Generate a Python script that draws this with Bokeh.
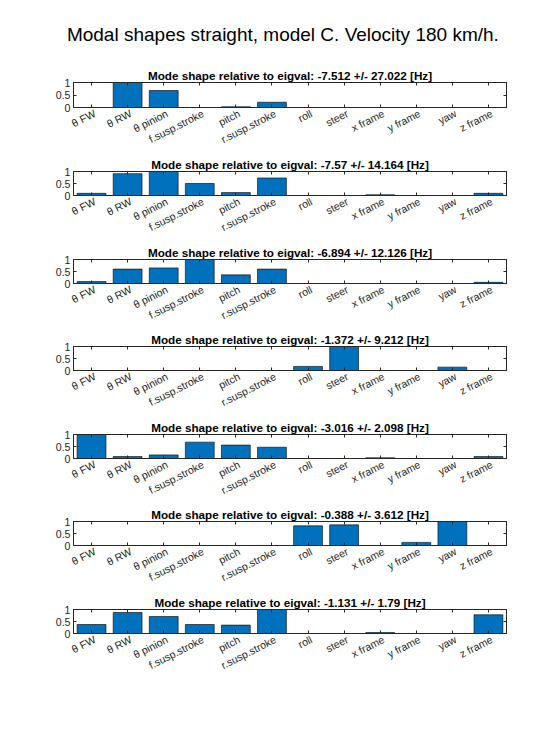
from bokeh.plotting import figure
from bokeh.layouts import column
from bokeh.models import Range1d, LinearAxis, Title, FixedTicker
from bokeh.embed import file_html
from bokeh.resources import INLINE

categories = ["θ FW", "θ RW", "θ pinion", "f.susp.stroke", "pitch", "r.susp.stroke",
              "roll", "steer", "x frame", "y frame", "yaw", "z frame"]

mode1 = [0.0, 1.0, 0.68, 0.0, 0.03, 0.21, 0.0, 0.0, 0.0, 0.0, 0.0, 0.0]
mode2 = [0.09, 0.91, 1.0, 0.5, 0.12, 0.73, 0.0, 0.0, 0.03, 0.0, 0.0, 0.09]
mode3 = [0.08, 0.6, 0.65, 1.0, 0.36, 0.6, 0.0, 0.0, 0.0, 0.0, 0.0, 0.05]
mode4 = [0.0, 0.0, 0.0, 0.0, 0.0, 0.0, 0.17, 1.0, 0.0, 0.0, 0.14, 0.0]
mode5 = [1.0, 0.08, 0.15, 0.68, 0.56, 0.47, 0.0, 0.0, 0.03, 0.0, 0.0, 0.08]
mode6 = [0.0, 0.0, 0.0, 0.0, 0.0, 0.0, 0.82, 0.86, 0.0, 0.13, 1.0, 0.0]
mode7 = [0.375, 0.875, 0.71, 0.375, 0.35, 1.0, 0.0, 0.0, 0.04, 0.0, 0.0, 0.78]

titles = [
    "Mode shape relative to eigval: -7.512 +/- 27.022 [Hz]",
    "Mode shape relative to eigval: -7.57 +/- 14.164 [Hz]",
    "Mode shape relative to eigval: -6.894 +/- 12.126 [Hz]",
    "Mode shape relative to eigval: -1.372 +/- 9.212 [Hz]",
    "Mode shape relative to eigval: -3.016 +/- 2.098 [Hz]",
    "Mode shape relative to eigval: -0.388 +/- 3.612 [Hz]",
    "Mode shape relative to eigval: -1.131 +/- 1.79 [Hz]",
]
modes = [mode1, mode2, mode3, mode4, mode5, mode6, mode7]

suptitle = "Modal shapes straight, model C. Velocity 180 km/h."
y_ticks = [0, 0.5, 1]
y_tick_labels = ["0", "0.5", "1"]

FONT = "Liberation Sans"
AX = "#262626"
BAR = "#0072BD"

xs = list(range(1, len(categories) + 1))
n = len(categories)
LAB_SHIFT = 0.09

heights = [154, 88, 87, 88, 87, 88, 88]
tops = [82, 16, 16, 16, 16, 16, 16]


def style_sub_title(t):
    t.text_font = FONT
    t.text_font_size = "11.7px"
    t.text_font_style = "bold"
    t.text_color = "black"
    t.align = "center"
    t.standoff = 2


figs = []
for i, (vals, ttl) in enumerate(zip(modes, titles)):
    p = figure(width=544, height=heights[i], x_range=Range1d(0.5, n + 0.5),
               y_range=Range1d(0, 1), output_backend="svg", toolbar_location=None,
               min_border_left=73, min_border_right=38, min_border_top=tops[i],
               min_border_bottom=heights[i] - tops[i] - 25)
    p.extra_x_ranges = {"lab": Range1d(0.5 - LAB_SHIFT, n + 0.5 - LAB_SHIFT)}
    p.vbar(x=xs, top=vals, width=0.8, fill_color=BAR, line_color="black", line_width=0.6)
    p.xgrid.visible = False
    p.ygrid.visible = False
    p.outline_line_color = AX
    p.outline_line_width = 0.8

    if i == 0:
        p.title.text = suptitle
        p.title.text_font = FONT
        p.title.text_font_size = "19px"
        p.title.text_font_style = "normal"
        p.title.text_color = "black"
        p.title.align = "left"
        p.title.offset = -6.6
        p.title.standoff = 41
    else:
        p.title.text = ttl
        style_sub_title(p.title)

    xa = p.xaxis[0]
    xa.ticker = FixedTicker(ticks=xs)
    xa.major_label_text_font_size = "0px"
    xa.major_label_standoff = 0
    xa.major_tick_in = 3
    xa.major_tick_out = 0
    xa.minor_tick_line_color = None
    xa.axis_line_color = AX
    xa.major_tick_line_color = AX

    lab = LinearAxis(x_range_name="lab", ticker=FixedTicker(ticks=xs),
                     major_label_overrides={x: c for x, c in zip(xs, categories)},
                     major_label_orientation=0.47, major_label_text_font=FONT,
                     major_label_text_font_size="10.6px", major_label_text_color=AX,
                     major_label_standoff=5, major_tick_in=0, major_tick_out=0,
                     minor_tick_line_color=None, axis_line_color=None, major_tick_line_color=None)
    p.add_layout(lab, "below")

    ya = p.yaxis[0]
    ya.ticker = FixedTicker(ticks=y_ticks)
    ya.major_label_overrides = {t: l for t, l in zip(y_ticks, y_tick_labels)}
    ya.major_label_text_font = FONT
    ya.major_label_text_font_size = "10.6px"
    ya.major_label_text_color = AX
    ya.major_tick_in = 3
    ya.major_tick_out = 0
    ya.minor_tick_line_color = None
    ya.axis_line_color = AX
    ya.major_tick_line_color = AX
    ya.major_label_standoff = 3

    top_ax = LinearAxis(ticker=FixedTicker(ticks=xs), major_label_text_font_size="0px",
                        major_tick_in=3, major_tick_out=0, minor_tick_line_color=None,
                        axis_line_color=AX, major_tick_line_color=AX, major_label_standoff=0)
    p.add_layout(top_ax, "above")
    right_ax = LinearAxis(ticker=FixedTicker(ticks=y_ticks), major_label_text_font_size="0px",
                          major_tick_in=3, major_tick_out=0, minor_tick_line_color=None,
                          axis_line_color=AX, major_tick_line_color=AX, major_label_standoff=0)
    p.add_layout(right_ax, "right")

    if i == 0:
        sub = Title(text=ttl)
        style_sub_title(sub)
        p.add_layout(sub, "above")
    figs.append(p)

layout = column(*figs, spacing=0)
open("out.html", "w").write(file_html(layout, INLINE))
